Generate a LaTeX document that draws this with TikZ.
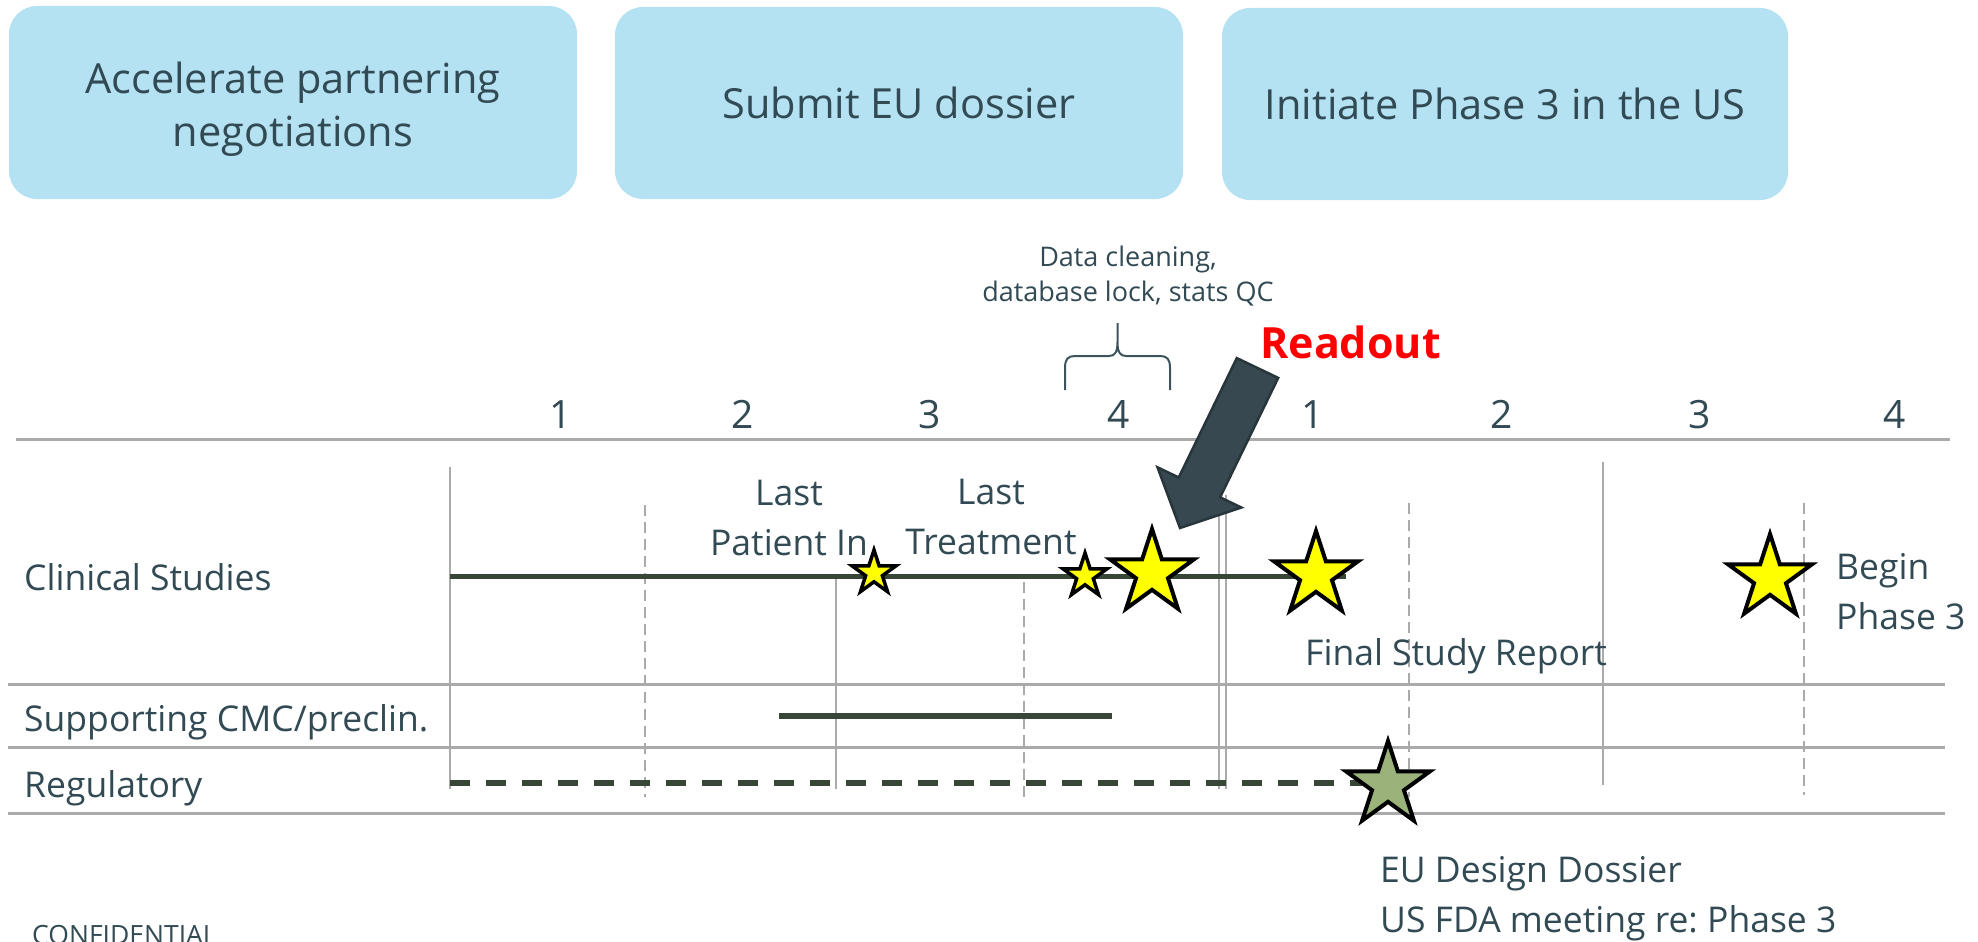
\documentclass[tikz,border=0pt]{standalone}
\usepackage{fontspec}
\setmainfont{Open Sans}
\usetikzlibrary{shapes.geometric}
\frenchspacing
\definecolor{txt}{RGB}{50,74,84}
\definecolor{boxfill}{RGB}{180,226,242}
\definecolor{gridc}{RGB}{170,170,170}
\definecolor{barc}{RGB}{56,70,56}
\definecolor{starY}{RGB}{255,255,0}
\definecolor{starG}{RGB}{155,178,122}
\definecolor{arrowfill}{RGB}{55,72,80}
\definecolor{arrowline}{RGB}{40,54,60}
\definecolor{bracec}{RGB}{60,84,94}
\begin{document}
\begin{tikzpicture}[x=1pt,y=-1pt,
  every node/.style={text=txt, inner sep=0pt},
  goalbox/.style={fill=boxfill, rounded corners=28pt, align=center, font=\fontsize{41.5}{53}\selectfont},
  lbl/.style={font=\fontsize{35.5}{50}\selectfont},
  qnum/.style={font=\fontsize{39}{47}\selectfont, anchor=base},
  gridh/.style={draw=gridc, line width=3pt},
  gridv/.style={draw=gridc, line width=2pt},
  gridd/.style={draw=gridc, line width=2pt, dash pattern=on 11pt off 6pt},
  barline/.style={draw=barc, line width=5pt},
  starbase/.style={star, star points=5, star point ratio=2.618, draw=black, inner sep=0pt, line join=miter},
  bstar/.style={starbase, fill=starY, line width=4pt, minimum size=88pt},
  sstar/.style={starbase, fill=starY, line width=3.5pt, minimum size=46pt}
]
\useasboundingbox (0,0) rectangle (1978,942);

% goal boxes
\node[goalbox, minimum width=568pt, minimum height=193pt, text height=87pt, text depth=0pt] (g1) at (293,102.5) {Accelerate partnering\\negotiations};
\node[goalbox, minimum width=568pt, minimum height=192pt] (g2) at (899,103) {Submit EU dossier};
\node[goalbox, minimum width=566pt, minimum height=192pt] (g3) at (1505,104) {Initiate Phase 3 in the US};

% grid
\draw[gridh] (16,439) -- (1950,439);
\draw[gridh] (8,684) -- (1945,684);
\draw[gridh] (8,747) -- (1945,747);
\draw[gridh] (8,813) -- (1945,813);
\draw[gridv] (450,467) -- (450,789);
\draw[gridv] (836,577) -- (836,789);
\draw[gridv] (1219,495) -- (1219,789);
\draw[gridv] (1226,495) -- (1226,789);
\draw[gridv] (1603,462) -- (1603,785);
\draw[gridd] (645,505) -- (645,797);
\draw[gridd] (1024,582) -- (1024,797);
\draw[gridd] (1409,503) -- (1409,797);
\draw[gridd] (1804,503) -- (1804,795);

% quarter numbers
\foreach \x/\q/\n in {561/1/qa,743/2/qb,930/3/qc,1119/4/qd,1313/1/qe,1502/2/qf,1700/3/qg,1895/4/qh}
  \node[qnum] (\n) at (\x,428) {\q};

% row labels
\node[lbl, anchor=base west] (rclin) at (24,590) {Clinical Studies};
\node[lbl, anchor=base west] (rcmc) at (24,731) {Supporting CMC/preclin.};
\node[lbl, anchor=base west] (rreg) at (24,797) {Regulatory};

% bars
\draw[barline] (450,576) -- (1346,576);
\draw[barline, line width=6pt] (779,716) -- (1112,716);
\draw[barline, line width=6pt, dash pattern=on 20pt off 16pt] (450,783) -- (1362,783);

% data cleaning brace
\node[font=\fontsize{27}{35}\selectfont, align=center, anchor=base] (dclean) at (1128,301) {Data cleaning,\\database lock, stats QC};
\draw[bracec, line width=2pt] (1065,390) -- (1065,368) .. controls (1065,359) and (1068,356) .. (1075,356)
  -- (1109,356) .. controls (1115,356) and (1117.5,352) .. (1117.5,342) -- (1117.5,323)
  -- (1117.5,342) .. controls (1117.5,352) and (1120,356) .. (1126,356)
  -- (1160,356) .. controls (1167,356) and (1170,359) .. (1170,368) -- (1170,390);

% milestone labels (base = last line)
\node[lbl, align=center, anchor=base] (lpi) at (789,555) {Last\\Patient In};
\node[lbl, align=center, anchor=base] (lt) at (991,554) {Last\\Treatment};
\node[lbl, anchor=base west] (fsr) at (1305,665) {Final Study Report};
\node[lbl, align=left, anchor=base west] (bp3) at (1836,629) {Begin\\Phase 3};
\node[lbl, align=left, anchor=base west] (eud) at (1380,932) {EU Design Dossier\\US FDA meeting re: Phase 3};

% stars
\node[sstar] (sLPI) at (874,573) {};
\node[sstar] (sLT) at (1085,576) {};
\node[bstar] (sRead) at (1152,573) {};
\node[bstar] (sFSR) at (1316,575) {};
\node[bstar] (sP3) at (1770,578) {};
\node[bstar, fill=starG] (sEU) at (1388,785) {};

% readout arrow
\node[font=\bfseries\fontsize{43}{50}\selectfont, text=red, anchor=base west] (readout) at (1260,358) {Readout};
\draw[fill=arrowfill, draw=arrowline, line width=2.5pt, line join=miter]
  (1236.8,358.1) -- (1278.2,377.9) -- (1220.1,497.3) -- (1241.3,507.5) -- (1180,528)
  -- (1157.5,467.3) -- (1178.7,477.5) -- cycle;

\node[font=\fontsize{26.5}{30}\selectfont, anchor=base west] (conf) at (32,944) {CONFIDENTIAL};
\end{tikzpicture}
\end{document}
